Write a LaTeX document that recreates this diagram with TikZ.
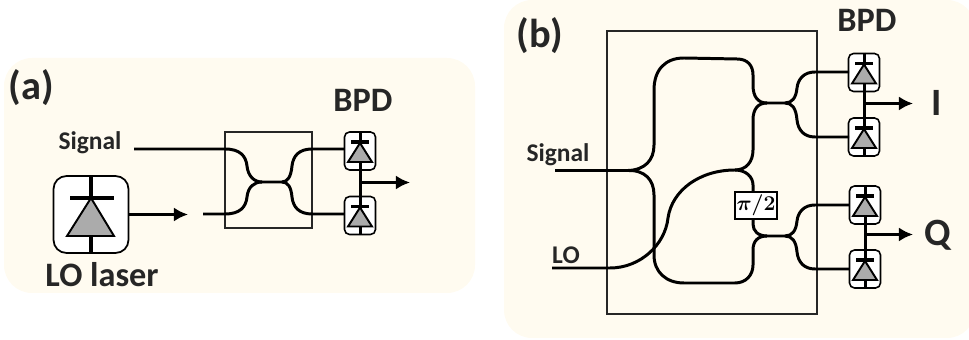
\documentclass[tikz,border=0pt]{standalone}
\usepackage{fontspec}
\setmainfont{Carlito}
\usepackage{xcolor}
\usepackage{bm}
\usetikzlibrary{arrows.meta}
\definecolor{panelbg}{HTML}{FFFBF0}
\definecolor{labeltext}{HTML}{262626}
\definecolor{diodegray}{HTML}{ABABAB}
\tikzset{
    panel/.style={fill=panelbg, draw=none, rounded corners=0.56cm},
    chip/.style={draw=black!85, line width=0.9pt, fill=none},
    guide/.style={line width=1.7pt, black},
    outarrow/.style={line width=1.5pt, black, -{Latex[length=8pt,width=8pt]}},
    bpdbox/.style={draw=black, line width=0.9pt, fill=white, rounded corners=0.1cm, minimum width=0.62cm, minimum height=0.76cm, inner sep=0pt},
    laserbox/.style={draw=black, line width=1pt, fill=white, rounded corners=0.26cm, minimum width=1.5cm, minimum height=1.54cm, inner sep=0pt},
    diode/.style={draw=black, line width=1.1pt, fill=diodegray, line join=miter},
    biglabel/.style={text=labeltext, font=\bfseries\fontsize{23}{25}\selectfont, inner sep=0pt},
    midlabel/.style={text=labeltext, font=\bfseries\fontsize{19.5}{21}\selectfont, inner sep=0pt},
    outlabel/.style={text=labeltext, font=\bfseries\fontsize{22}{24}\selectfont, inner sep=0pt},
    smalllabel/.style={text=labeltext, font=\bfseries\fontsize{14.5}{16}\selectfont, inner sep=0pt},
}
\begin{document}
\begin{tikzpicture}[x=0.02cm,y=-0.02cm]
    \useasboundingbox (0,0) rectangle (969,340);

    % ========== Panels ==========
    \fill[panel] (4,58) rectangle (475,293);
    \fill[panel] (504,0) rectangle (975,338);

    % ========== (a) ==========
    \node[biglabel] (labela) at (31,88) {(a)};
    \node[midlabel] (bpdlabela) at (363,100) {BPD};
    \node[smalllabel] (signala) at (90,143) {Signal};
    \node[midlabel] (laserlabel) at (102,275) {LO laser};

    \node[chip, minimum width=1.74cm, minimum height=1.92cm] (chipa) at (268.5,180) {};

    % LO laser
    \node[laserbox] (laser) at (91,214.5) {};
    \draw[line width=1.8pt] (laser.north) -- (laser.south);
    \draw[line width=1.8pt] (70,198) -- (114,198);
    \draw[diode] (91,198) -- (114,236) -- (67,236) -- cycle;
    \coordinate (laserend) at (188,214.5);
    \draw[outarrow] (laser.east |- laserend) -- (laserend);

    % Coupler
    \coordinate (ina) at (134,149);
    \coordinate (inb) at (203,214);
    \coordinate (cl) at (262,182);
    \coordinate (cr) at (282,182);
    \coordinate (outa) at (344,149);
    \coordinate (outb) at (344,214);
    \draw[guide] (ina) -- (225,149) .. controls (240,149) and (246,156) .. (247,166)
        .. controls (248,176) and (254,182) .. (cl) -- (cr)
        .. controls (288,182) and (291,176) .. (292,166)
        .. controls (293,156) and (299,149) .. (312,149) -- (outa);
    \draw[guide] (inb) -- (225,214) .. controls (240,214) and (246,207) .. (247,197)
        .. controls (248,187) and (254,182) .. (cl);
    \draw[guide] (cr) .. controls (288,182) and (291,187) .. (292,197)
        .. controls (293,207) and (299,214) .. (312,214) -- (outb);

    % BPD (a)
    \foreach \bname/\bx/\by in {bpda/360/151, bpdb/360/215.5} {
        \node[bpdbox] (\bname) at (\bx,\by) {};
    }
    \coordinate (endout) at (410,182.5);
    \draw[guide] (bpda.north) -- (bpdb.south);
    \draw[outarrow] (360,182.5) -- (endout);

    % ========== (b) ==========
    \node[biglabel] (labelb) at (540,36) {(b)};
    \node[midlabel] (bpdlabelb) at (867,20) {BPD};
    \node[smalllabel] (signalb) at (558,155) {Signal};
    \node[smalllabel] (lolabel) at (566,255) {LO};
    \node[outlabel] (ilabel) at (937,103) {I};
    \node[outlabel] (qlabel) at (938,235) {Q};

    \node[chip, minimum width=4.2cm, minimum height=5.66cm] (chipb) at (712,172.5) {};

    \foreach \bname/\bx/\by in {bpdc/864/72.5, bpdd/864/137, bpde/865/205, bpdf/865/269} {
        \node[bpdbox] (\bname) at (\bx,\by) {};
    }

    % Waveguides
    \coordinate (sigin) at (555,170.5);
    \coordinate (split) at (628,170.5);
    \coordinate (loin) at (552,268);
    \coordinate (junction) at (735,170);
    \coordinate (cca) at (767,103);
    \coordinate (ccb) at (785,103);
    \coordinate (cda) at (767,236);
    \coordinate (cdb) at (785,236);
    \draw[guide] (sigin) -- (split);
    % upper arm
    \draw[guide] (split) .. controls (645,170) and (654,160) .. (654,145) -- (654,90)
        .. controls (654,70) and (665,58) .. (684,58) -- (737,59)
        .. controls (748,59) and (753,66) .. (753,75) -- (753,85)
        .. controls (753,97) and (758,103) .. (cca) -- (ccb)
        .. controls (792,103) and (796,98) .. (797,88)
        .. controls (798,79) and (804,72) .. (815,72) -- (849,72);
    \draw[guide] (ccb) .. controls (792,103) and (796,108) .. (797,120)
        .. controls (798,130) and (804,137) .. (815,137) -- (849,137);
    \draw[guide] (cca) .. controls (758,103) and (753,109) .. (753,120) -- (753,150)
        .. controls (753,162) and (746,170) .. (junction);
    % lower arm
    \draw[guide] (split) .. controls (645,170) and (654,180) .. (654,195) -- (654,255)
        .. controls (654,272) and (666,283) .. (684,283) -- (735,283)
        .. controls (746,283) and (753,275) .. (753,265) -- (753,250)
        .. controls (753,241) and (758,236) .. (cda) -- (cdb)
        .. controls (792,236) and (796,231) .. (797,221)
        .. controls (798,212) and (804,205) .. (815,205) -- (849,205);
    \draw[guide] (cdb) .. controls (792,236) and (796,241) .. (797,252)
        .. controls (798,262) and (804,269) .. (815,269) -- (849,269);
    % LO
    \draw[guide] (loin) -- (610,268) .. controls (640,268) and (665,245) .. (668,218)
        .. controls (672,190) and (700,170) .. (junction);
    % pi/2
    \coordinate (phasetop) at (753,192);
    \coordinate (phasebot) at (753,219);
    \draw[guide] (junction) .. controls (746,170) and (753,177) .. (753,185) -- (phasetop);
    \draw[guide] (phasebot) -- (753,224) .. controls (753,231) and (758,236) .. (cda);
    \node[draw=black, line width=0.9pt, fill=white, minimum width=0.84cm, minimum height=0.54cm, inner sep=0pt] (phase) at (756,205.5) {\fontsize{12.5}{15}\selectfont$\bm{\pi/2}$};

    \coordinate (endi) at (913,103.5);
    \coordinate (endq) at (913,234.5);
    \draw[guide] (bpdc.north) -- (bpdd.south);
    \draw[guide] (bpde.north) -- (bpdf.south);
    \draw[outarrow] (864,103.5) -- (endi);
    \draw[outarrow] (865,234.5) -- (endq);

    % ========== Diodes, same in all BPD boxes ==========
    \foreach \bname in {bpda,bpdb,bpdc,bpdd,bpde,bpdf} {
        \begin{scope}[shift={(\bname.center)}]
            \draw[line width=1.8pt] (-9,-9) -- (9,-9);
            \draw[diode] (0,-8) -- (12,11) -- (-12,11) -- cycle;
        \end{scope}
    }
\end{tikzpicture}
\end{document}
